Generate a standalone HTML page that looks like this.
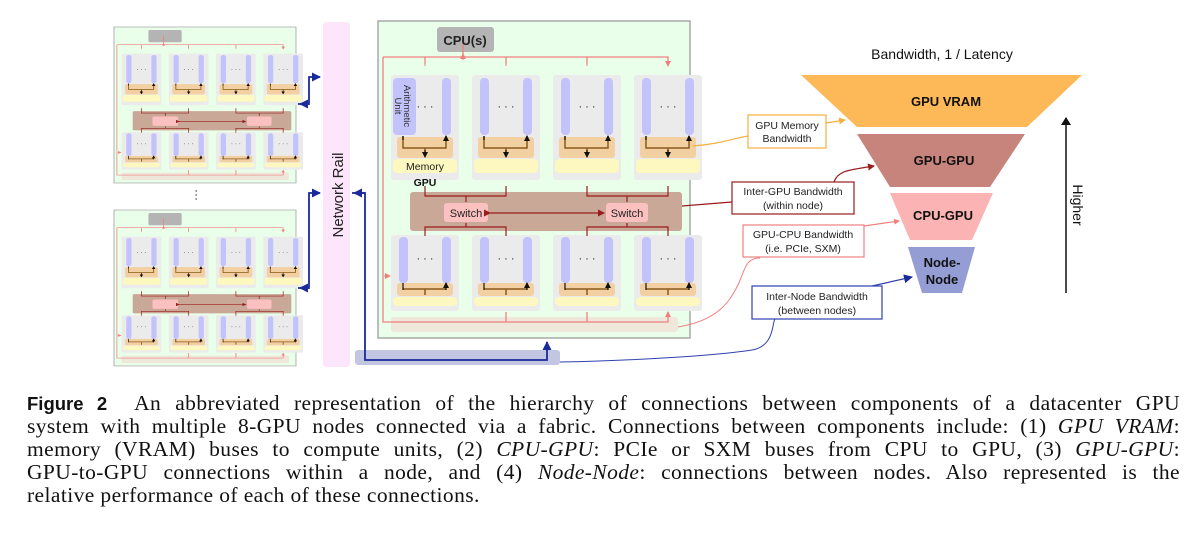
<!DOCTYPE html>
<html><head><meta charset="utf-8"><style>
body{margin:0;background:#fff;width:1200px;height:536px;overflow:hidden;position:relative}
svg{position:absolute;left:0;top:0}
.cap{position:absolute;left:27px;width:1153px;font-family:"Liberation Serif",serif;font-size:21.5px;letter-spacing:0.4px;line-height:23px;color:#111}
.cap div{text-align:justify;text-align-last:justify;white-space:nowrap}
.cap div.last{text-align-last:left}
.cap b{font-family:"Liberation Sans",sans-serif;font-weight:bold;font-size:18.5px;letter-spacing:0}
</style></head><body>
<svg width="1200" height="380" viewBox="0 0 1200 380" font-family="Liberation Sans, sans-serif">
<defs>
<marker id="ak" markerWidth="6" markerHeight="6" refX="5" refY="3" orient="auto" markerUnits="userSpaceOnUse"><path d="M0,0 L6,3 L0,6z" fill="#111"/></marker>
<marker id="ap" markerWidth="6" markerHeight="6" refX="5" refY="3" orient="auto" markerUnits="userSpaceOnUse"><path d="M0,0 L6,3 L0,6z" fill="#f08080"/></marker>
<marker id="ar" markerWidth="7" markerHeight="7" refX="6" refY="3.5" orient="auto" markerUnits="userSpaceOnUse"><path d="M0,0 L7,3.5 L0,7z" fill="#9b1c1c"/></marker>
<marker id="ab" markerWidth="9" markerHeight="9" refX="8" refY="4.5" orient="auto" markerUnits="userSpaceOnUse"><path d="M0,0 L9,4.5 L0,9z" fill="#1a2a9a"/></marker>
<marker id="ao" markerWidth="7" markerHeight="7" refX="6" refY="3.5" orient="auto" markerUnits="userSpaceOnUse"><path d="M0,0 L7,3.5 L0,7z" fill="#f5b041"/></marker>
<marker id="aK" markerWidth="8" markerHeight="10" refX="7" refY="5" orient="auto" markerUnits="userSpaceOnUse"><path d="M0,0 L8,5 L0,10z" fill="#111"/></marker>
<g id="nd">
<rect x="378" y="21" width="312" height="317" fill="#eaffea" stroke="#a8a8a8" stroke-width="1.5"/>
<rect x="437" y="27" width="57" height="25" rx="3" fill="#b4b4b4"/>
<rect x="391" y="317" width="287" height="15" rx="3" fill="#efe8da"/>
<g id="gpuT">
<rect x="391" y="75" width="68" height="105" rx="3" fill="#ebebeb"/>
<rect x="399" y="78" width="9" height="57" rx="4" fill="#c3c3fb"/>
<rect x="442" y="78" width="9" height="57" rx="4" fill="#c3c3fb"/>
<rect x="397" y="137" width="56" height="21" rx="3" fill="#f2d0a2"/>
<rect x="393" y="159" width="64" height="14" rx="4" fill="#fdf7c0"/>
<path d="M403,136 V148 H446 V136 M425,148 V156" fill="none" stroke="#8a5a1a" stroke-width="1.5"/>
<path d="M403,140 V136 M446,140 V136" stroke="#111" stroke-width="1.2" marker-end="url(#ak)"/>
<path d="M425,150 V157" stroke="#111" stroke-width="1.2" marker-end="url(#ak)"/>
<text x="425" y="110" font-size="11" text-anchor="middle" fill="#222">· · ·</text>
</g>
<use href="#gpuT" x="81"/><use href="#gpuT" x="162"/><use href="#gpuT" x="243"/>
<g id="gpuB">
<rect x="391" y="235" width="68" height="76" rx="3" fill="#ebebeb"/>
<rect x="399" y="237" width="9" height="46" rx="4" fill="#c3c3fb"/>
<rect x="442" y="237" width="9" height="46" rx="4" fill="#c3c3fb"/>
<rect x="397" y="283" width="56" height="13" rx="3" fill="#f2d0a2"/>
<rect x="393" y="297" width="64" height="9" rx="4" fill="#fdf7c0"/>
<path d="M403,289 H446 M425,289 V295" fill="none" stroke="#8a5a1a" stroke-width="1.5"/>
<path d="M403,290 V283 M446,290 V283" stroke="#111" stroke-width="1.2" marker-end="url(#ak)"/>
<text x="425" y="262" font-size="11" text-anchor="middle" fill="#222">· · ·</text>
</g>
<use href="#gpuB" x="81"/><use href="#gpuB" x="162"/><use href="#gpuB" x="243"/>
<rect x="410" y="192" width="272" height="39" rx="3" fill="#c9a898"/>
<rect x="444" y="203" width="44" height="19" rx="3" fill="#fbc0c0"/>
<rect x="606" y="203" width="42" height="19" rx="3" fill="#fbc0c0"/>
<path d="M425,186 V196 H466 V202 M506,186 V196 H466 M425,236 V227 H466 V223 M506,236 V227 H466 M587,186 V196 H627 V202 M668,186 V196 H627 M587,236 V227 H627 V223 M668,236 V227 H627" fill="none" stroke="#9b1c1c" stroke-width="1.2"/>
<path d="M490,213 H604" stroke="#9b1c1c" stroke-width="1.3" marker-end="url(#ar)" marker-start="url(#ar)"/>
<path d="M463,57 V38 M383,57 H668 V61 M425,57 V64 M506,57 V64 M587,57 V64 M383,57 V322 H668 V312 M506,322 V312 M587,322 V312" fill="none" stroke="#f08080" stroke-width="1.3"/>
<path d="M463,60 V54" stroke="#f08080" marker-end="url(#ap)"/>
<path d="M425,60 V66 M506,60 V66 M587,60 V66 M668,60 V66" stroke="#f08080" marker-end="url(#ap)"/>
<path d="M506,318 V312 M587,318 V312 M668,318 V312" stroke="#f08080" marker-end="url(#ap)"/>
<path d="M384,276 H390" stroke="#f08080" marker-end="url(#ap)"/>
</g>
</defs>
<use href="#nd" transform="translate(114,27) scale(0.5833,0.492) translate(-378,-21)"/>
<use href="#nd" transform="translate(114,210) scale(0.5833,0.492) translate(-378,-21)"/>
<text x="203" y="205" font-size="12" text-anchor="middle" fill="#222" transform="rotate(90 203 195)">···</text>
<rect x="323" y="22" width="27" height="345" rx="3" fill="#fde6fb"/>
<text transform="translate(343,195) rotate(-90)" font-size="15" text-anchor="middle" fill="#222">Network Rail</text>
<path d="M298,104 H309 V77 H320" fill="none" stroke="#1a2a9a" stroke-width="1.8" marker-end="url(#ab)"/>
<path d="M309,104 H300" stroke="#1a2a9a" stroke-width="1.8" marker-end="url(#ab)"/>
<path d="M298,288 H309 V193 H320" fill="none" stroke="#1a2a9a" stroke-width="1.8" marker-end="url(#ab)"/>
<path d="M309,288 H300" stroke="#1a2a9a" stroke-width="1.8" marker-end="url(#ab)"/>
<use href="#nd"/>
<text x="465" y="45" font-size="13" font-weight="bold" text-anchor="middle" fill="#222">CPU(s)</text>
<rect x="393" y="78" width="23" height="57" rx="4" fill="#c3c3fb"/>
<text transform="translate(404,106) rotate(90)" font-size="9.5" text-anchor="middle" fill="#333">Arithmetic</text>
<text transform="translate(395,106) rotate(90)" font-size="9.5" text-anchor="middle" fill="#333">Unit</text>
<text x="425" y="170" font-size="10.5" text-anchor="middle" fill="#222">Memory</text>
<text x="425" y="186" font-size="10.5" font-weight="bold" text-anchor="middle" fill="#111">GPU</text>
<text x="466" y="217" font-size="11" text-anchor="middle" fill="#222">Switch</text>
<text x="627" y="217" font-size="11" text-anchor="middle" fill="#222">Switch</text>
<rect x="355" y="350" width="205" height="15" rx="3" fill="#c3c6e2"/>
<path d="M352,193 H365 V360 H547 V342" fill="none" stroke="#1a2a9a" stroke-width="1.8" marker-end="url(#ab)"/>
<path d="M365,193 H354" stroke="#1a2a9a" stroke-width="1.8" marker-end="url(#ab)"/>
<path d="M560,362 C650,360 720,355 752,350 C775,346 772,322 775,319" fill="none" stroke="#3040b0" stroke-width="1"/>
<path d="M678,327 C720,320 730,300 738,285 C745,270 745,258 760,258" fill="none" stroke="#f08080" stroke-width="1"/>
<path d="M682,206 L732,202" stroke="#9b1c1c" stroke-width="1.2"/>
<path d="M693,146 C720,144 735,138 748,136" fill="none" stroke="#f5b041" stroke-width="1.2"/>
<path d="M826,123 L845,120" stroke="#f5b041" stroke-width="1.2" marker-end="url(#ao)"/>
<path d="M834,182 C838,170 850,170 874,166" fill="none" stroke="#9b1c1c" stroke-width="1.2" marker-end="url(#ar)"/>
<path d="M864,226 L899,221" stroke="#f08080" stroke-width="1.2" marker-end="url(#ap)"/>
<path d="M872,286 L912,277" stroke="#3040b0" stroke-width="1.2" marker-end="url(#ab)"/>
<rect x="748" y="115" width="78" height="33" fill="#fff" stroke="#f5b041" stroke-width="1.2"/>
<text x="787" y="129" font-size="10.5" text-anchor="middle" fill="#222">GPU Memory</text>
<text x="787" y="142" font-size="10.5" text-anchor="middle" fill="#222">Bandwidth</text>
<rect x="732" y="182" width="122" height="32" fill="#fff" stroke="#9b1c1c" stroke-width="1.2"/>
<text x="793" y="195" font-size="10.5" text-anchor="middle" fill="#222">Inter-GPU Bandwidth</text>
<text x="793" y="209" font-size="10.5" text-anchor="middle" fill="#222">(within node)</text>
<rect x="743" y="225" width="121" height="32" fill="#fff" stroke="#f08080" stroke-width="1.2"/>
<text x="803" y="238" font-size="10.5" text-anchor="middle" fill="#222">GPU-CPU Bandwidth</text>
<text x="803" y="252" font-size="10.5" text-anchor="middle" fill="#222">(i.e. PCIe, SXM)</text>
<rect x="752" y="286" width="130" height="33" fill="#fff" stroke="#3040b0" stroke-width="1.2"/>
<text x="817" y="300" font-size="10.5" text-anchor="middle" fill="#222">Inter-Node Bandwidth</text>
<text x="817" y="314" font-size="10.5" text-anchor="middle" fill="#222">(between nodes)</text>
<text x="942" y="59" font-size="14" text-anchor="middle" fill="#111">Bandwidth, 1 / Latency</text>
<polygon points="801,75 1082,75 1027,127 857,127" fill="#fdb958"/>
<polygon points="857,134 1025,134 990,187 890,187" fill="#c7847c"/>
<polygon points="890,193 993,193 972,240 910,240" fill="#fbb3b3"/>
<polygon points="908,247 975,247 962,293 922,293" fill="#949dd4"/>
<text x="946" y="106" font-size="13" font-weight="bold" text-anchor="middle" fill="#111">GPU VRAM</text>
<text x="944" y="165" font-size="13" font-weight="bold" text-anchor="middle" fill="#111">GPU-GPU</text>
<text x="943" y="220" font-size="13" font-weight="bold" text-anchor="middle" fill="#111">CPU-GPU</text>
<text x="942" y="267" font-size="13" font-weight="bold" text-anchor="middle" fill="#111">Node-</text>
<text x="942" y="284" font-size="13" font-weight="bold" text-anchor="middle" fill="#111">Node</text>
<path d="M1066,293 V118" stroke="#111" stroke-width="1.5" marker-end="url(#aK)"/>
<text transform="translate(1073,205) rotate(90)" font-size="14" text-anchor="middle" fill="#111">Higher</text>
</svg>
<div class="cap" style="top:392px">
<div><b>Figure 2</b>&nbsp; An abbreviated representation of the hierarchy of connections between components of a datacenter GPU</div>
<div>system with multiple 8-GPU nodes connected via a fabric. Connections between components include: (1) <i>GPU VRAM</i>:</div>
<div>memory (VRAM) buses to compute units, (2) <i>CPU-GPU</i>: PCIe or SXM buses from CPU to GPU, (3) <i>GPU-GPU</i>:</div>
<div>GPU-to-GPU connections within a node, and (4) <i>Node-Node</i>: connections between nodes. Also represented is the</div>
<div class="last">relative performance of each of these connections.</div>
</div>
</body></html>
